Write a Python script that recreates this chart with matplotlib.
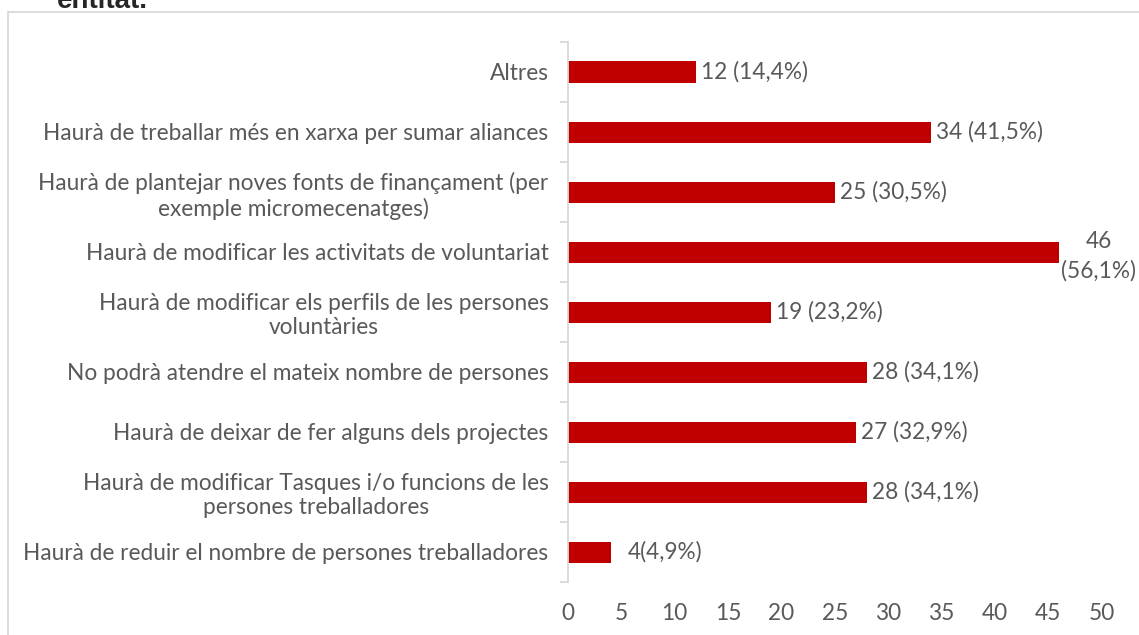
import matplotlib.pyplot as plt

plt.rcParams['font.family'] = ['Lato', 'DejaVu Sans']

# Dades (de baix a dalt)
categories = [
    'Haurà de reduir el nombre de persones treballadores',
    'Haurà de modificar Tasques i/o funcions de les\npersones treballadores',
    'Haurà de deixar de fer alguns dels projectes',
    'No podrà atendre el mateix nombre de persones',
    'Haurà de modificar els perfils de les persones\nvoluntàries',
    'Haurà de modificar les activitats de voluntariat',
    'Haurà de plantejar noves fonts de finançament (per\nexemple micromecenatges)',
    'Haurà de treballar més en xarxa per sumar aliances',
    'Altres',
]
valors = [4, 28, 27, 28, 19, 46, 25, 34, 12]
etiquetes = ['4(4,9%)', '28 (34,1%)', '27 (32,9%)', '28 (34,1%)', '19 (23,2%)',
             '46\n(56,1%)', '25 (30,5%)', '34 (41,5%)', '12 (14,4%)']

gris = '#595959'
mida = 16.3

fig = plt.figure(figsize=(11.39, 6.35), dpi=100)

# marc del gràfic
fig.patches.append(plt.Rectangle((8 / 1139, -0.01), 1.1, 1 - 12 / 635 + 0.01,
                                 transform=fig.transFigure, fill=False,
                                 edgecolor='#D9D9D9', linewidth=1.3))
fig.text(57 / 1139, 1 - 8 / 635, 'entitat.', fontsize=20, fontweight='bold',
         family='Liberation Sans', color='#262626', va='baseline', ha='left')

ax = fig.add_axes([568 / 1139, 1 - 582 / 635, 533.5 / 1139, 540 / 635])
y = range(len(categories))
ax.barh(y, valors, height=0.35, color='#C00000')

for i, (v, t) in enumerate(zip(valors, etiquetes)):
    if '\n' in t:
        ax.annotate(t, (v, i), xytext=(40 * 0.72, -3), textcoords='offset points',
                    ha='center', va='center', fontsize=mida, color=gris, linespacing=1.5)
    else:
        dx = 17 if v < 5 else 5
        ax.annotate(t, (v, i), xytext=(dx * 0.72, 0), textcoords='offset points',
                    ha='left', va='center', fontsize=mida, color=gris)

ax.set_xlim(0, 50)
ax.set_ylim(-0.5, len(categories) - 0.5)
ax.set_xticks(range(0, 51, 5))
ax.set_yticks(list(y))
ax.set_yticklabels(categories)
ax.set_yticks([i - 0.5 for i in range(len(categories) + 1)], minor=True)
ax.tick_params(axis='y', which='major', length=0, pad=14, labelsize=mida, labelcolor=gris)
ax.tick_params(axis='y', which='minor', length=6, color='#D9D9D9', width=1.3)
ax.tick_params(axis='x', length=0, pad=15, labelsize=mida, labelcolor=gris)
for lbl in ax.get_yticklabels():
    lbl.set_multialignment('center')
    lbl.set_linespacing(1.2)

for s in ['top', 'right', 'bottom']:
    ax.spines[s].set_visible(False)
ax.spines['left'].set_color('#D9D9D9')
ax.spines['left'].set_linewidth(1.3)

plt.savefig('out.png', dpi=100)
